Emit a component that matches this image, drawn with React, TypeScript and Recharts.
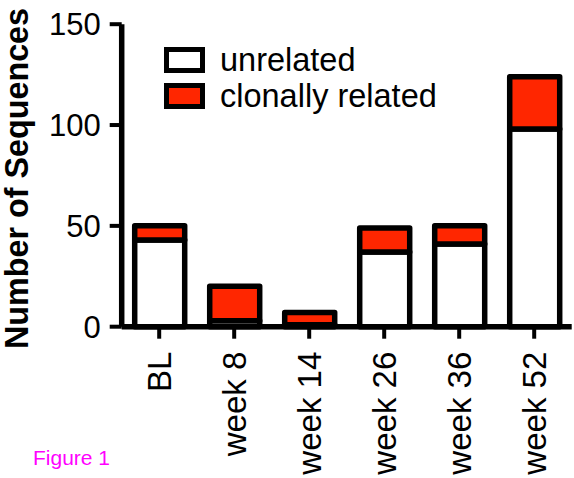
import React from 'react';
import { BarChart, Bar, XAxis, YAxis, Legend } from 'recharts';

// Sampling time points
const categories = ['BL', 'week 8', 'week 14', 'week 26', 'week 36', 'week 52'];
// Sequence counts per time point
const unrelated = [43, 3, 1, 37, 41, 98];
const clonallyRelated = [7, 17, 6, 12, 9, 26];
// Y axis ticks
const yTicks = [0, 50, 100, 150];
// Stacking / legend order
const seriesOrder = ['unrelated', 'clonal'];

const data = categories.map((name, i) => ({
  name,
  unrelated: unrelated[i],
  clonal: clonallyRelated[i],
}));

const FONT = '"Liberation Sans", Arial, Helvetica, sans-serif';
const RED = '#FF2600';

const XTick = (props: any) => {
  const { x, y, payload } = props;
  return (
    <text
      x={x}
      y={y}
      transform={`rotate(-90, ${x}, ${y})`}
      textAnchor="end"
      dy="0.36em"
      fontSize={33}
      fontFamily={FONT}
      fill="#000"
    >
      {payload.value}
    </text>
  );
};

const YTitle = (props: any) => {
  const { viewBox } = props;
  const cx = viewBox.x + 28;
  const cy = viewBox.y + viewBox.height / 2 + 3;
  return (
    <text
      x={cx}
      y={cy}
      transform={`rotate(-90, ${cx}, ${cy})`}
      textAnchor="middle"
      fontWeight="bold"
      fontSize={32.3}
      fontFamily={FONT}
      fill="#000"
    >
      Number of Sequences
    </text>
  );
};

const LegendContent = (props: any) => {
  const items = [...(props.payload || [])].sort(
    (a: any, b: any) => seriesOrder.indexOf(a.dataKey) - seriesOrder.indexOf(b.dataKey)
  );
  return (
    <div style={{ fontFamily: FONT }}>
      {items.map((p: any) => (
        <div
          key={p.value}
          style={{ display: 'flex', alignItems: 'center', height: 36 }}
        >
          <div
            style={{
              width: 31,
              height: 16,
              border: '5px solid #000',
              background: p.payload.fill,
              marginRight: 15,
              flex: 'none',
            }}
          />
          <span style={{ fontSize: 32.5, color: '#000', lineHeight: '36px', whiteSpace: 'nowrap' }}>
            {p.value}
          </span>
        </div>
      ))}
    </div>
  );
};

export default function App() {
  return (
    <div style={{ position: 'absolute', left: 0, top: 0, width: 574, height: 478, background: '#fff' }}>
      <BarChart
        width={574}
        height={478}
        data={data}
        margin={{ top: 24.2, right: 2.3, bottom: 0, left: 0 }}
        barSize={50}
      >
        <XAxis
          dataKey="name"
          interval={0}
          height={151.3}
          tickSize={12}
          tickMargin={13}
          axisLine={{ stroke: '#000', strokeWidth: 5.5 }}
          tickLine={{ stroke: '#000', strokeWidth: 4 }}
          tick={<XTick />}
        />
        <YAxis
          width={121.7}
          domain={[0, 150]}
          ticks={yTicks}
          interval={0}
          tickSize={12}
          tickMargin={9}
          axisLine={{ stroke: '#000', strokeWidth: 5.5 }}
          tickLine={{ stroke: '#000', strokeWidth: 4 }}
          tick={{ fontSize: 31, fontFamily: FONT, fill: '#000' }}
          label={<YTitle />}
        />
        <Legend
          layout="vertical"
          verticalAlign="middle"
          align="center"
          content={<LegendContent />}
          wrapperStyle={{ position: 'absolute', left: 164, top: 42, width: 320, height: 72 }}
        />
        <Bar
          dataKey="unrelated"
          name="unrelated"
          stackId="a"
          fill="#FFFFFF"
          stroke="#000"
          strokeWidth={5.5}
          strokeLinejoin="round"
          isAnimationActive={false}
        />
        <Bar
          dataKey="clonal"
          name="clonally related"
          stackId="a"
          fill={RED}
          stroke="#000"
          strokeWidth={5.5}
          strokeLinejoin="round"
          isAnimationActive={false}
        />
      </BarChart>
      <div
        style={{
          position: 'absolute',
          left: 33,
          top: 446,
          fontFamily: FONT,
          fontSize: 21,
          color: '#FF00FF',
          lineHeight: '24px',
        }}
      >
        Figure 1
      </div>
    </div>
  );
}
